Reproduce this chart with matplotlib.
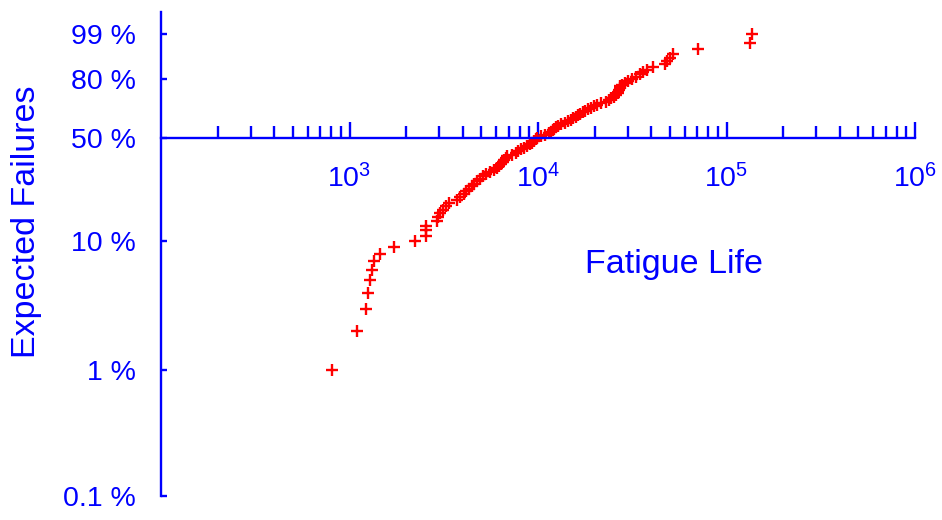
import numpy as np
import matplotlib
matplotlib.use('Agg')
import matplotlib.pyplot as plt
from matplotlib.ticker import FixedLocator, LogLocator, NullFormatter

plt.rcParams['font.family'] = ['Liberation Sans', 'DejaVu Sans']
plt.rcParams['mathtext.fontset'] = 'custom'
plt.rcParams['mathtext.rm'] = 'Liberation Sans'

# expected failures (%) for each ranked specimen
pct = [1, 2, 3, 4, 5, 6, 7, 8, 9, 10,
       11, 12, 13, 14, 15, 16, 17, 18, 19, 20,
       21, 22, 23, 24, 25, 26, 27, 28, 29, 30,
       31, 32, 33, 34, 35, 36, 37, 38, 39, 40,
       41, 42, 43, 44, 45, 46, 47, 48, 49, 50,
       51, 52, 53, 54, 55, 56, 57, 58, 59, 60,
       61, 62, 63, 64, 65, 66, 67, 68, 69, 70,
       71, 72, 73, 74, 75, 76, 77, 78, 79, 80,
       81, 82, 83, 84, 85, 86, 87, 88, 89, 90,
       91, 92, 93, 94, 95, 96, 97, 98, 99]

# fatigue life (cycles), sorted
life = [810, 1100, 1220, 1250, 1290, 1320, 1350, 1450, 1730, 2230,
        2540, 2540, 2540, 2900, 2930, 3020, 3120, 3240, 3370, 3710,
        3870, 4040, 4170, 4310, 4450, 4590, 4740, 4900, 5080, 5310,
        5560, 5810, 6080, 6220, 6350, 6490, 6630, 6760, 6880, 7250,
        7610, 7880, 8170, 8450, 8760, 9070, 9300, 9500, 9710, 9930,
        10400, 10930, 11380, 11650, 11940, 12200, 12490, 12810, 13320, 13830,
        14360, 14940, 15380, 15840, 16310, 16790, 17290, 17810, 18340, 19020,
        19780, 20510, 21570, 22890, 23830, 24480, 25260, 26020, 26530, 26720,
        26920, 27120, 27350, 27990, 28890, 29940, 31430, 33080, 34600, 36070,
        37780, 40510, 46900, 48640, 50450, 52330, 70990, 133850, 137160]

xticks = [1e3, 1e4, 1e5, 1e6]
xticklabels = [r'$\mathregular{10^{3}}$', r'$\mathregular{10^{4}}$',
               r'$\mathregular{10^{5}}$', r'$\mathregular{10^{6}}$']
# tick spots as they sit on the original axis
yticks = [0.001, 0.01, 0.1, 0.5, 0.87, 0.99]
yticklabels = ['0.1 %', '1 %', '10 %', '50 %', '80 %', '99 %']

BLUE = '#0000ff'


def weibull(p):
    p = np.clip(p, 1e-9, 1 - 1e-9)
    return np.log(-np.log(1 - p))


def weibull_inv(w):
    return 1 - np.exp(-np.exp(w))


fig = plt.figure(figsize=(9.42, 5.2), dpi=100)
ax = fig.add_axes([161 / 942, 24 / 520, 754 / 942, 484 / 520])

ax.plot(life, np.array(pct) / 100, '+', color='red', ms=9, mew=1.7, clip_on=False)

ax.set_xscale('log')
ax.set_yscale('function', functions=(weibull, weibull_inv))
ax.set_xlim(100, 1e6)
ax.set_ylim(0.001, 0.999)

for s in ['top', 'right']:
    ax.spines[s].set_visible(False)
ax.spines['bottom'].set_position(('data', 0.5))
for s in ['left', 'bottom']:
    ax.spines[s].set_color(BLUE)
    ax.spines[s].set_linewidth(1.7)

ax.xaxis.set_major_locator(FixedLocator(xticks))
ax.set_xticklabels(xticklabels)
ax.xaxis.set_minor_locator(LogLocator(base=10, subs=np.arange(2, 10), numticks=20))
ax.xaxis.set_minor_formatter(NullFormatter())
ax.tick_params(axis='x', which='major', direction='in', length=11.5, width=1.7,
               color=BLUE, labelcolor=BLUE, labelsize=20.5, pad=19)
ax.tick_params(axis='x', which='minor', direction='in', length=8.6, width=1.7, color=BLUE)

ax.yaxis.set_major_locator(FixedLocator(yticks))
ax.set_yticklabels(yticklabels)
ax.yaxis.set_minor_locator(FixedLocator([]))
ax.tick_params(axis='y', which='major', direction='in', length=4, width=1.7,
               color=BLUE, labelcolor=BLUE, labelsize=20.5, pad=18)

fig.text(27 / 942, 1 - 222 / 520, 'Expected Failures', rotation=90,
         ha='center', va='center', color=BLUE, fontsize=24.5)
fig.text(674 / 942, 1 - 264 / 520, 'Fatigue Life',
         ha='center', va='center', color=BLUE, fontsize=24.5)

fig.savefig('out.png', dpi=100)
